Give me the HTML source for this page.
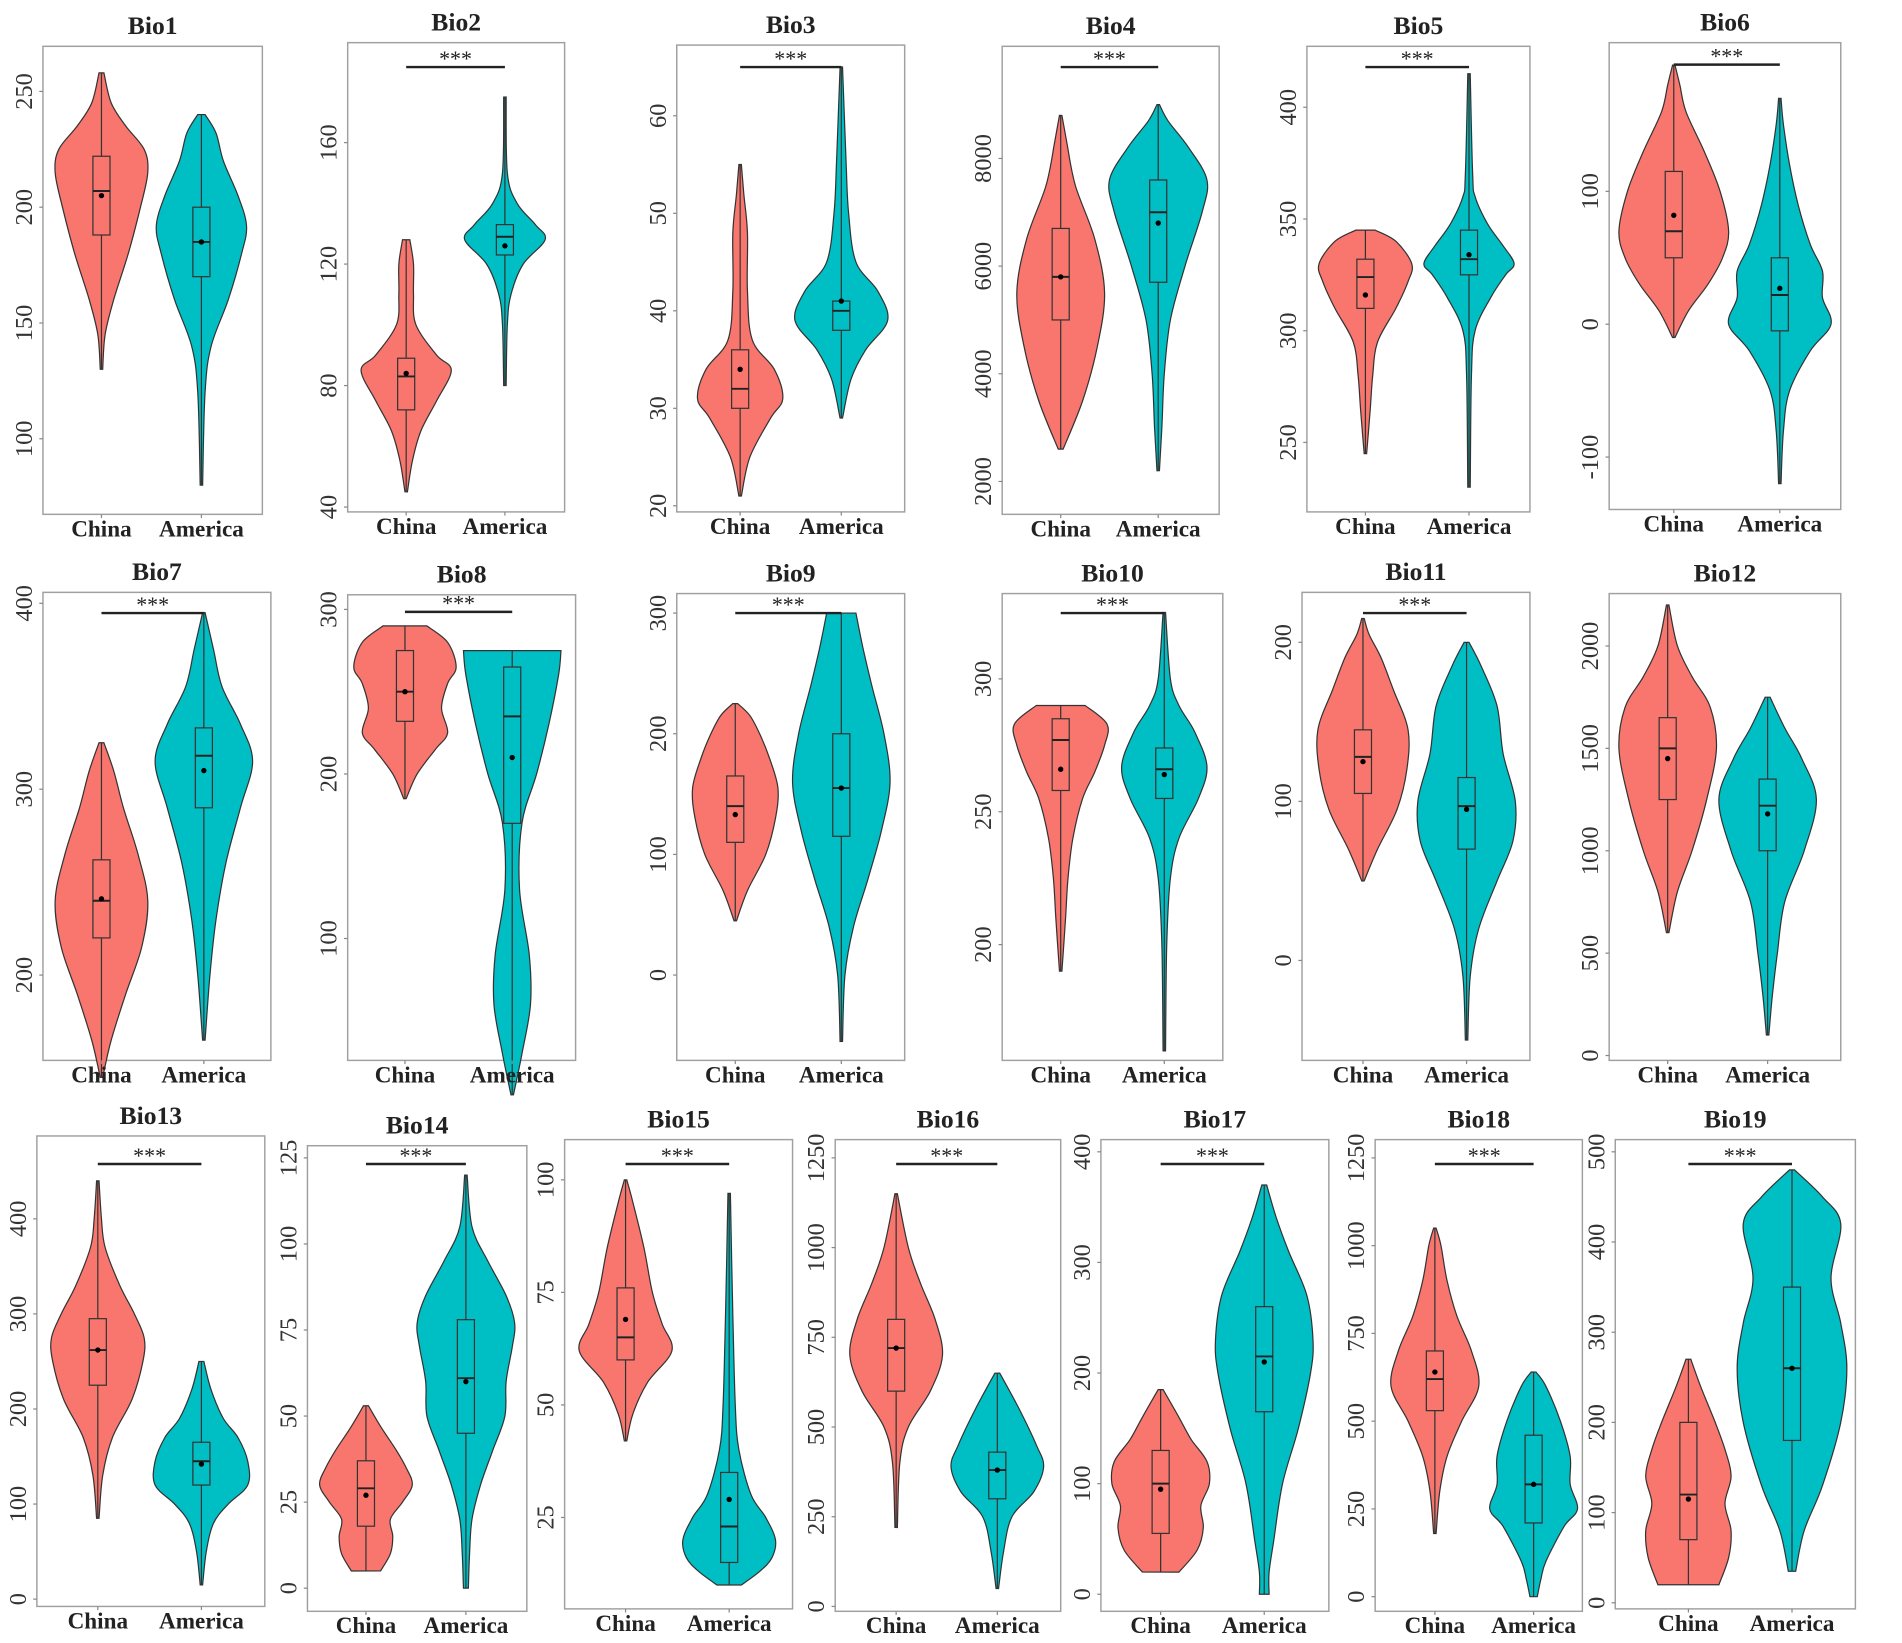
<!DOCTYPE html>
<html><head><meta charset="utf-8"><style>
html,body{margin:0;padding:0;background:#fff}
svg{display:block}
text{font-family:"Liberation Serif",serif}
</style></head><body>
<svg id="chart" width="1902" height="1643" viewBox="0 0 1560 1348" xmlns="http://www.w3.org/2000/svg"></svg>
<script>
const groups = ["China","America"];
const panelNames = ["Bio1","Bio2","Bio3","Bio4","Bio5","Bio6","Bio7","Bio8","Bio9","Bio10","Bio11","Bio12","Bio13","Bio14","Bio15","Bio16","Bio17","Bio18","Bio19"];
const tickLabels = [
 [100,150,200,250],[40,80,120,160],[20,30,40,50,60],[2000,4000,6000,8000],[250,300,350,400],[-100,0,100],
 [200,300,400],[100,200,300],[0,100,200,300],[200,250,300],[0,100,200],[0,500,1000,1500,2000],
 [0,100,200,300,400],[0,25,50,75,100,125],[25,50,75,100],[0,250,500,750,1000,1250],[0,100,200,300,400],[0,250,500,750,1000,1250],[0,100,200,300,400,500]
];
const hasSig = [0,1,1,1,1,1, 1,1,1,1,1,0, 1,1,1,1,1,1,1];
// box stats: [q1, median, q3, mean]
const chinaStats = [[188,207,222,205],[72,83,89,84],[30,32,36,34],[5000,5800,6700,5800],[310,324,332,316],[50,70,115,82],
 [220,240,262,241],[232,250,275,250],[110,140,165,133],[258,277,285,266],[105,128,145,125],[1250,1500,1650,1450],
 [225,262,295,262],[18,29,37,27],[60,65,76,69],[600,720,800,720],[55,100,130,95],[530,620,700,640],[70,120,200,115]];
const americaStats = [[170,185,200,185],[123,129,133,126],[38,40,41,41],[5700,7000,7600,6800],[325,332,345,334],[-5,22,50,27],
 [290,318,333,310],[170,235,265,210],[115,155,200,155],[255,266,274,264],[70,97,115,95],[1000,1220,1350,1180],
 [120,145,165,142],[45,61,78,60],[15,23,35,29],[300,380,430,380],[165,215,260,210],[210,320,460,320],[180,260,350,260]];
// density knots: [value, half-width]
const chinaDensity = [
 [[130,1],[145,3],[160,10],[180,22],[200,32],[215,38],[225,35],[235,20],[245,8],[258,2]],
 [[45,1],[55,5],[65,12],[75,25],[85,37],[90,25],[100,8],[110,6],[120,6],[128,3]],
 [[21,1],[25,8],[29,25],[31,35],[34,28],[37,10],[42,6],[48,6],[52,3],[55,1]],
 [[2600,2],[3500,18],[4500,30],[5500,36],[6500,28],[7500,12],[8300,5],[8800,1]],
 [[245,1],[265,4],[280,6],[295,10],[310,25],[322,35],[330,38],[340,25],[345,8]],
 [[-10,1],[10,12],[30,28],[50,40],[70,45],[100,38],[130,25],[160,10],[180,5],[195,1]],
 [[145,1],[165,8],[190,20],[215,33],[240,38],[265,30],[290,18],[310,10],[325,2]],
 [[185,1],[200,10],[215,25],[225,35],[240,30],[255,35],[265,42],[280,35],[290,18]],
 [[45,1],[70,10],[100,25],[130,33],[155,35],[180,28],[200,20],[215,12],[225,2]],
 [[190,1],[210,4],[225,6],[240,10],[255,18],[265,28],[275,36],[283,38],[290,20]],
 [[50,1],[70,12],[95,28],[120,36],[145,37],[170,25],[190,15],[205,5],[215,1]],
 [[600,1],[800,8],[1000,20],[1250,32],[1500,40],[1700,35],[1850,20],[2000,8],[2200,1]],
 [[85,1],[130,4],[170,12],[210,28],[250,37],[275,38],[300,30],[330,18],[370,6],[400,3],[440,1]],
 [[5,12],[10,20],[15,22],[20,20],[25,30],[30,38],[35,33],[40,25],[47,12],[53,2]],
 [[42,1],[48,6],[55,18],[62,38],[68,30],[75,22],[85,15],[95,6],[100,1]],
 [[220,1],[400,3],[500,10],[600,28],[700,38],[800,32],[900,20],[1000,10],[1150,1]],
 [[20,15],[40,30],[60,35],[80,33],[100,40],[120,38],[140,25],[160,15],[185,2]],
 [[180,1],[300,4],[400,10],[500,22],[600,36],[700,30],[800,18],[900,10],[1000,5],[1050,1]],
 [[20,25],[50,33],[80,35],[110,30],[140,35],[170,30],[200,22],[240,10],[270,2]]
];
const americaDensity = [
 [[80,1],[120,3],[140,8],[160,22],[180,33],[192,37],[205,30],[220,18],[232,12],[240,3]],
 [[80,1],[100,2],[110,5],[120,15],[128,33],[133,25],[140,10],[150,2],[175,1]],
 [[29,1],[33,8],[36,20],[39,38],[42,30],[45,12],[50,6],[55,4],[65,1]],
 [[2200,1],[3000,3],[4000,5],[5000,10],[6000,22],[7000,36],[7600,40],[8200,25],[8700,8],[9000,1]],
 [[230,1],[280,2],[300,5],[315,18],[325,30],[330,37],[338,28],[348,15],[360,5],[370,3],[415,1]],
 [[-120,1],[-80,3],[-50,8],[-20,25],[0,42],[20,35],[40,35],[60,25],[90,15],[120,8],[150,3],[170,1]],
 [[165,1],[200,5],[230,10],[260,18],[290,30],[315,40],[335,30],[355,15],[375,8],[395,1]],
 [[5,1],[30,8],[60,15],[90,14],[130,6],[170,8],[200,20],[230,30],[260,38],[275,40]],
 [[-55,1],[0,3],[40,10],[80,22],[120,33],[160,40],[200,35],[240,25],[270,18],[300,12]],
 [[160,1],[200,2],[225,5],[240,12],[255,28],[267,35],[280,25],[290,12],[300,5],[325,1]],
 [[-50,1],[-10,3],[20,10],[50,25],[75,38],[100,40],[130,30],[160,25],[185,12],[200,2]],
 [[100,1],[300,4],[500,8],[750,14],[1000,30],[1250,40],[1450,28],[1600,14],[1750,2]],
 [[15,1],[50,4],[80,10],[100,22],[120,38],[145,38],[170,30],[190,18],[220,8],[250,2]],
 [[0,2],[10,3],[20,5],[30,12],[40,22],[50,32],[60,33],[70,38],[77,40],[85,33],[95,18],[105,5],[120,1]],
 [[10,10],[13,25],[16,35],[20,38],[25,30],[30,18],[40,8],[50,5],[70,3],[97,1]],
 [[50,1],[150,5],[250,12],[320,30],[390,38],[450,32],[550,18],[650,2]],
 [[0,4],[20,4],[50,8],[100,15],[150,28],[200,38],[230,40],[270,35],[310,20],[340,10],[370,2]],
 [[0,3],[50,6],[100,10],[200,25],[250,36],[320,30],[400,30],[500,22],[600,10],[640,2]],
 [[35,3],[80,10],[130,25],[200,40],[260,45],[310,40],[360,32],[420,40],[450,25],[480,2]]
];
// layout (pixel geometry): frame [x0,y0,x1,y1], axis anchors [v0,py0,v1,py1], group centers, sig bar y
const layout = [
 {f:[35,38,215,422],a:[100,360,250,75],c:[83,165],s:0},
 {f:[285,35,463,420],a:[40,416,160,117],c:[333,414],s:55},
 {f:[555,37,742,420],a:[20,415,60,95],c:[607,690],s:55},
 {f:[822,38,1000,422],a:[2000,395,8000,130],c:[870,950],s:55},
 {f:[1072,38,1255,420],a:[250,363,400,88],c:[1120,1205],s:55},
 {f:[1320,35,1510,418],a:[-100,375,100,157],c:[1373,1460],s:53},
 {f:[35,486,222,870],a:[200,800,400,495],c:[83,167],s:503},
 {f:[285,488,472,870],a:[100,770,300,500],c:[332,420],s:502},
 {f:[555,487,742,870],a:[0,800,300,503],c:[603,690],s:503},
 {f:[822,487,1003,870],a:[200,775,300,557],c:[870,955],s:503},
 {f:[1068,486,1255,870],a:[0,788,200,527],c:[1118,1203],s:503},
 {f:[1320,487,1510,870],a:[0,866,2000,530],c:[1368,1450],s:0},
 {f:[30,932,217,1318],a:[0,1312,400,1000],c:[80,165],s:955},
 {f:[252,940,432,1322],a:[0,1303,125,950],c:[300,382],s:955},
 {f:[463,935,650,1320],a:[25,1245,100,968],c:[513,598],s:955},
 {f:[685,935,870,1322],a:[0,1318,1250,950],c:[735,818],s:955},
 {f:[903,935,1090,1322],a:[0,1308,400,945],c:[952,1037],s:955},
 {f:[1128,935,1298,1322],a:[0,1310,1250,950],c:[1177,1258],s:955},
 {f:[1325,935,1522,1320],a:[0,1315,500,945],c:[1385,1470],s:955}
];
const colors = ["#F8766D","#00BFC4"];
const NS = "http://www.w3.org/2000/svg";
const svg = document.getElementById("chart");
function mk(tag, attrs, parent){const e=document.createElementNS(NS,tag);for(const k in attrs)e.setAttribute(k,attrs[k]);(parent||svg).appendChild(e);return e;}
function smoothPath(pts){
  let d="";
  for(let i=0;i<pts.length-1;i++){
    const p0=pts[Math.max(i-1,0)],p1=pts[i],p2=pts[i+1],p3=pts[Math.min(i+2,pts.length-1)];
    const c1=[p1[0]+(p2[0]-p0[0])/6,p1[1]+(p2[1]-p0[1])/6];
    const c2=[p2[0]-(p3[0]-p1[0])/6,p2[1]-(p3[1]-p1[1])/6];
    d+=` C${c1[0].toFixed(1)},${c1[1].toFixed(1)} ${c2[0].toFixed(1)},${c2[1].toFixed(1)} ${p2[0].toFixed(1)},${p2[1].toFixed(1)}`;
  }
  return d;
}
panelNames.forEach((name,i)=>{
  const L=layout[i];
  const [x0,y0,x1,y1]=L.f;
  const [v0,py0,v1,py1]=L.a;
  const yS=v=>py0+(v-v0)*(py1-py0)/(v1-v0);
  const g=mk("g",{});
  
  
  const fr=mk("rect",{x:x0,y:y0,width:x1-x0,height:y1-y0,fill:"none",stroke:"#a0a0a0","stroke-width":1.2},g);
  
  
  const t=mk("text",{x:(x0+x1)/2,y:y0-10,"text-anchor":"middle","font-size":21,"font-weight":"bold",fill:"#222"},g);
  t.textContent=name;
  
  
  tickLabels[i].forEach(v=>{
    const y=yS(v);
    mk("line",{x1:x0-3,x2:x0,y1:y,y2:y,stroke:"#888"},g);
    const tl=mk("text",{x:x0-9,y:y,"text-anchor":"middle","font-size":20,fill:"#333",transform:`rotate(-90 ${x0-9} ${y})`},g);
    tl.textContent=v;
    
    
  });
  groups.forEach((gname,j)=>{
    const cx=L.c[j];
    const dens=j===0?chinaDensity[i]:americaDensity[i];
    const st=j===0?chinaStats[i]:americaStats[i];
    const right=dens.map(p=>[cx+p[1],yS(p[0])]);
    const left=dens.slice().reverse().map(p=>[cx-p[1],yS(p[0])]);
    let d=`M${right[0][0]},${right[0][1]}`+smoothPath(right)+` L${left[0][0]},${left[0][1]}`+smoothPath(left)+" Z";
    const vp=mk("path",{d:d,fill:colors[j],stroke:"#333","stroke-width":1},g);
    
    
    const wl=mk("line",{x1:cx,x2:cx,y1:yS(dens[0][0]),y2:yS(dens[dens.length-1][0]),stroke:"#333","stroke-width":1},g);
    
    
    const bx=mk("rect",{x:cx-7,y:yS(st[2]),width:14,height:yS(st[0])-yS(st[2]),fill:colors[j],stroke:"#333","stroke-width":1},g);
    
    
    mk("line",{x1:cx-7,x2:cx+7,y1:yS(st[1]),y2:yS(st[1]),stroke:"#222","stroke-width":1.6},g);
    const mp=mk("circle",{cx:cx,cy:yS(st[3]),r:2.2,fill:"#000"},g);
    
    
    mk("line",{x1:cx,x2:cx,y1:y1,y2:y1+3,stroke:"#888"},g);
    const xl=mk("text",{x:cx,y:y1+18,"text-anchor":"middle","font-size":19,"font-weight":"bold",fill:"#222"},g);
    xl.textContent=gname;
    
    
  });
  if(hasSig[i]){
    const sl=mk("line",{x1:L.c[0],x2:L.c[1],y1:L.s,y2:L.s,stroke:"#222","stroke-width":2},g);
    
    
    const st=mk("text",{x:(L.c[0]+L.c[1])/2,y:L.s-1,"text-anchor":"middle","font-size":18,fill:"#222"},g);
    st.textContent="***";
    
    
  }
});
</script>
</body></html>
